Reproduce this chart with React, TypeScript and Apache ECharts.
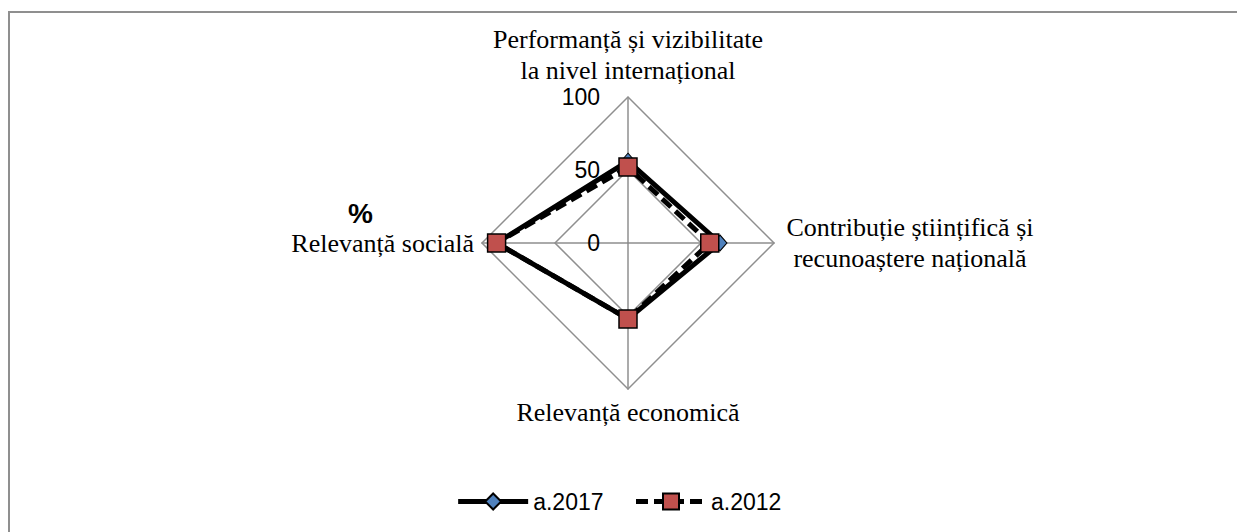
import React, { useEffect, useRef } from "react";
import * as echarts from "echarts";

// Indicators in ECharts radar order (counter-clockwise from top)
const indicatorNames = [
  "Performanță și vizibilitate\nla nivel internațional",
  "Relevanță socială",
  "Relevanță economică",
  "Contribuție științifică și\nrecunoaștere națională",
];
const axisMax = 100;
const axisMin = 0;
const seriesNames = ["a.2017", "a.2012"];
const values2017 = [56, 90, 52, 63];
const values2012 = [52, 90, 52, 56];

const SERIF = "'Liberation Serif', 'Times New Roman', serif";
const SANS = "'Liberation Sans', Arial, sans-serif";

export default function App() {
  const ref = useRef<HTMLDivElement>(null);
  useEffect(() => {
    if (!ref.current) return;
    const chart = echarts.init(ref.current, undefined, { renderer: "svg" });
    const gray = "#8f8f8f";
    chart.setOption({
      animation: false,
      backgroundColor: "#fff",
      legend: {
        data: seriesNames,
        left: "center",
        top: 485,
        itemWidth: 70,
        itemHeight: 20,
        itemGap: 30,
        lineStyle: { width: 5 },
        textStyle: { fontFamily: SANS, fontSize: 23, color: "#000" },
      },
      grid: { left: 0, top: 0, width: 1, height: 1, show: false },
      xAxis: { type: "value", show: false },
      yAxis: { type: "value", show: false },
      graphic: [
        {
          type: "text",
          left: 348,
          top: 199,
          style: { text: "%", fontFamily: SANS, fontWeight: "bold", fontSize: 28, fill: "#000" },
        },
      ],
      radar: {
        center: [628, 243],
        radius: 146,
        startAngle: 90,
        shape: "polygon",
        splitNumber: 2,
        nameGap: 8,
        indicator: indicatorNames.map((n, i) => ({
          name: n,
          min: axisMin,
          max: axisMax,
          ...(i === 0 ? { axisLabel: { show: true } } : {}),
        })),
        axisName: {
          color: "#000",
          fontFamily: SERIF,
          fontSize: 26,
          lineHeight: 31,
          formatter: (name: string) =>
            name.indexOf("Contribuție") === 0
              ? name.split("\n").map((l) => `{r|${l}}`).join("\n")
              : name,
          rich: {
            r: {
              width: 256,
              align: "center",
              fontFamily: SERIF,
              fontSize: 26,
              lineHeight: 31,
              color: "#000",
            },
          },
        },
        axisLabel: {
          show: false,
          fontFamily: SANS,
          fontSize: 23,
          color: "#000",
          margin: 28,
        },
        axisTick: { show: false },
        splitLine: { lineStyle: { color: gray, width: 1.5 } },
        splitArea: { show: false },
        axisLine: { lineStyle: { color: gray, width: 1.5 } },
      },
      series: [
        {
          type: "line",
          name: seriesNames[0],
          data: [],
          symbol: "diamond",
          symbolSize: [14, 16],
          itemStyle: { color: "#4F81BD", borderColor: "#000", borderWidth: 1 },
          lineStyle: { color: "#000", width: 5 },
        },
        {
          type: "line",
          name: seriesNames[1],
          data: [],
          symbol: "rect",
          symbolSize: 18,
          itemStyle: { color: "#C0504D", borderColor: "#000", borderWidth: 1.5 },
          lineStyle: { color: "#000", width: 5, type: [12, 6] },
        },
        {
          type: "radar",
          data: [
            {
              name: seriesNames[0],
              value: values2017,
              symbol: "diamond",
              symbolSize: [14, 16],
              itemStyle: { color: "#4F81BD", borderColor: "#000", borderWidth: 1 },
              lineStyle: { color: "#000", width: 5 },
            },
            {
              name: seriesNames[1],
              value: values2012,
              symbol: "rect",
              symbolSize: 18,
              itemStyle: { color: "#C0504D", borderColor: "#000", borderWidth: 1.5 },
              lineStyle: { color: "#000", width: 5, type: [12, 6] },
            },
          ],
        },
      ],
    });
    return () => chart.dispose();
  }, []);
  return (
    <div style={{ position: "fixed", left: 0, top: 0, width: 1237, height: 532, overflow: "hidden", background: "#fff" }}>
      <div ref={ref} style={{ position: "absolute", left: 0, top: 0, width: 1237, height: 532 }} />
      <div
        style={{
          position: "absolute",
          left: 8,
          top: 11,
          width: 1229,
          height: 521,
          borderTop: "2px solid #8f8f8f",
          borderLeft: "2px solid #8f8f8f",
          boxSizing: "border-box",
          pointerEvents: "none",
        }}
      />
    </div>
  );
}
